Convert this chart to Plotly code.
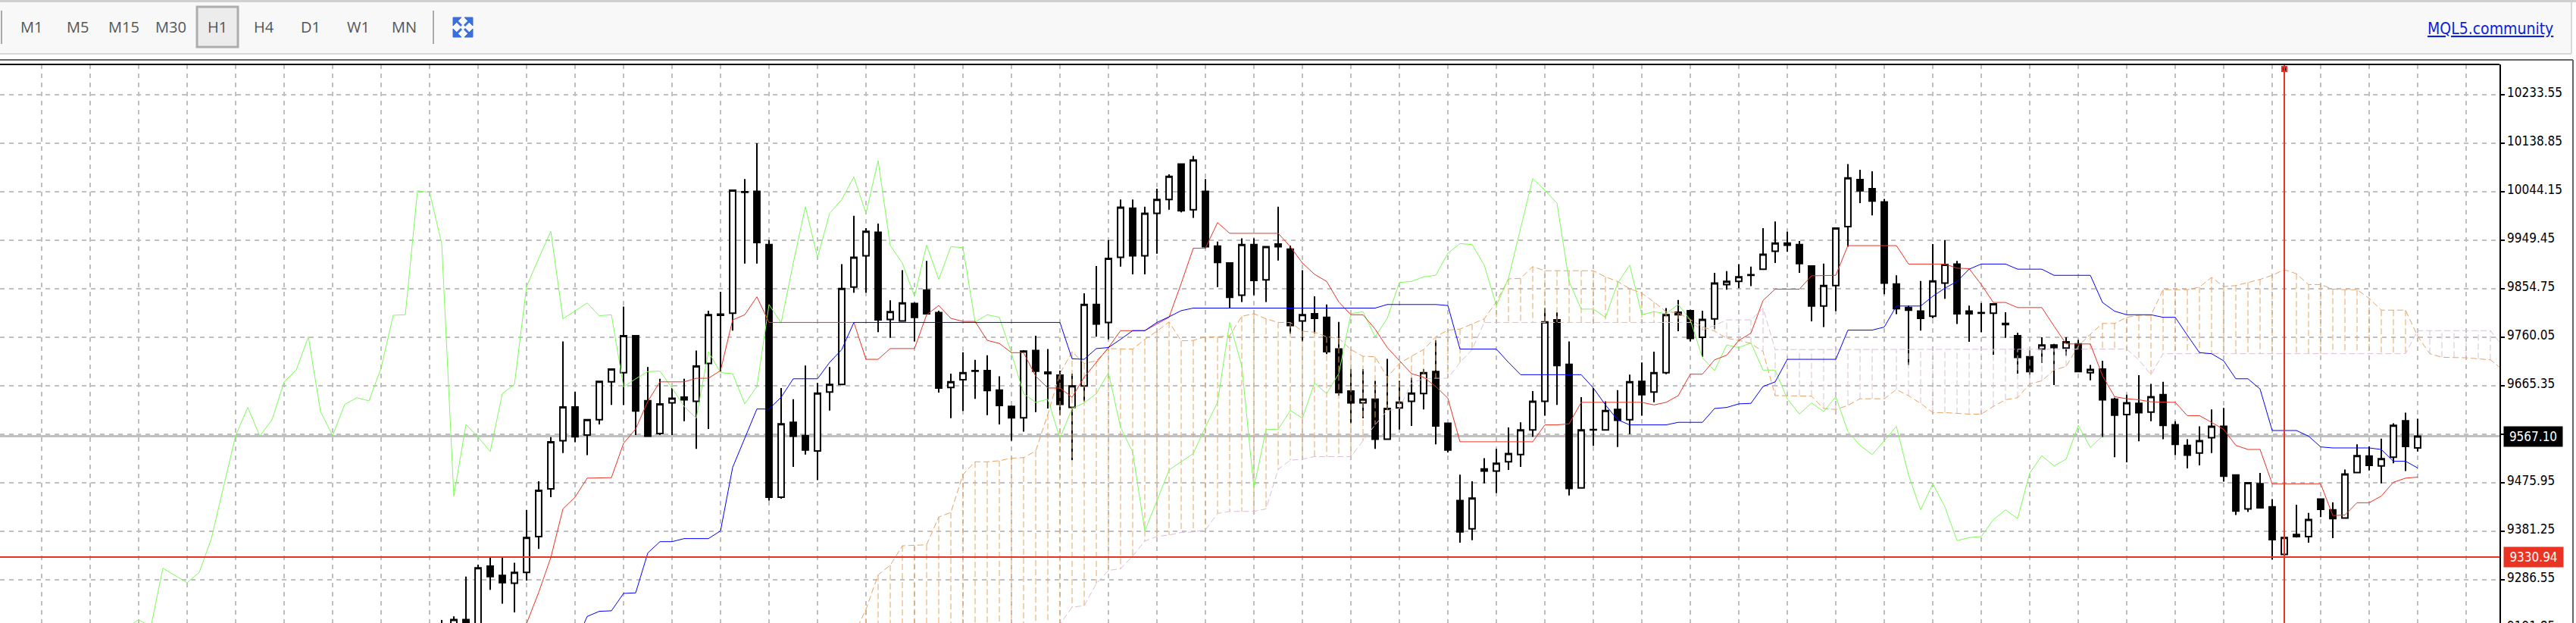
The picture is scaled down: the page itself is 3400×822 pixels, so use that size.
import plotly.graph_objs as go

W = 3400
H = 822

# IMPORT DATA (bar index 0 = first vertical grid line)
first_bar = 33
opens = [
    9184, 9177, 9209, 9180, 9313, 9295, 9280,
    9301, 9371, 9464, 9558, 9624, 9569, 9599, 9673, 9691, 9763,
    9636, 9572, 9632, 9643, 9635, 9709, 9805, 9807, 10044, 10045,
    9941, 9448, 9594, 9568, 9538, 9653, 9668, 9858, 9919, 9965,
    9795, 9792, 9826, 9852, 9808, 9662, 9677, 9695, 9695, 9657,
    9625, 9603, 9734, 9692, 9686, 9623, 9665, 9824, 9789, 9916,
    10012, 9919, 10002, 10029, 10098, 10009, 10045, 9938, 9905, 9842,
    9941, 9872, 9942, 9932, 9792, 9806, 9799, 9737, 9655, 9632,
    9639, 9561, 9622, 9635, 9650, 9693, 9592, 9441, 9386, 9503,
    9499, 9517, 9531, 9579, 9635, 9794, 9707, 9466, 9580, 9579,
    9619, 9599, 9674, 9653, 9691, 9809, 9812, 9760, 9796, 9863,
    9869, 9881, 9893, 9928, 9944, 9941, 9899, 9821, 9861, 9976,
    10068, 10050, 10024, 9864, 9818, 9811, 9801, 9866, 9903, 9811,
    9808, 9807, 9787, 9763, 9722, 9737, 9745, 9739, 9747, 9691,
    9698, 9639, 9609, 9631, 9614, 9648, 9589, 9549, 9534, 9564,
    9586, 9491, 9425, 9474, 9429, 9336, 9375, 9371, 9444, 9423,
    9407, 9496, 9528, 9509, 9526, 9597, 9544,
]
closes = [
    9177, 9209, 9177, 9310, 9293, 9281, 9301,
    9369, 9461, 9556, 9624, 9566, 9599, 9674, 9698, 9763, 9616,
    9567, 9630, 9641, 9638, 9704, 9804, 9803, 10047, 10043, 9945,
    9448, 9591, 9567, 9540, 9651, 9668, 9855, 9916, 9967, 9794,
    9810, 9827, 9799, 9806, 9661, 9673, 9691, 9694, 9656, 9627,
    9603, 9733, 9694, 9689, 9629, 9665, 9824, 9786, 9914, 10014,
    9919, 10002, 10029, 10074, 10007, 10106, 9937, 9906, 9838, 9941,
    9871, 9937, 9937, 9783, 9804, 9797, 9732, 9652, 9632, 9639,
    9561, 9621, 9633, 9651, 9691, 9587, 9540, 9380, 9446, 9499,
    9514, 9533, 9579, 9635, 9790, 9705, 9465, 9579, 9579, 9617,
    9598, 9673, 9648, 9691, 9804, 9804, 9758, 9795, 9866, 9869,
    9878, 9882, 9922, 9944, 9940, 9904, 9821, 9861, 9973, 10071,
    10046, 10026, 9866, 9816, 9813, 9797, 9870, 9902, 9806, 9806,
    9807, 9825, 9785, 9721, 9693, 9745, 9740, 9751, 9693, 9697,
    9638, 9608, 9632, 9613, 9644, 9588, 9551, 9530, 9558, 9586,
    9489, 9421, 9476, 9427, 9365, 9369, 9371, 9404, 9424, 9406,
    9493, 9529, 9510, 9523, 9588, 9547, 9567,
]
highs = [
    9208, 9215, 9293, 9316, 9330, 9330, 9320,
    9423, 9479, 9565, 9752, 9654, 9599, 9674, 9698, 9820, 9763,
    9702, 9679, 9661, 9679, 9734, 9812, 9849, 10047, 10069, 10139,
    9950, 9661, 9639, 9705, 9671, 9702, 9903, 9997, 9973, 9982,
    9832, 9891, 9828, 9909, 9812, 9689, 9731, 9716, 9725, 9684,
    9627, 9735, 9763, 9737, 9695, 9689, 9846, 9899, 9950, 10029,
    10029, 10015, 10050, 10078, 10098, 10114, 10069, 9947, 9905, 9953,
    9953, 9937, 10015, 9939, 9891, 9840, 9824, 9790, 9698, 9698,
    9675, 9718, 9675, 9681, 9698, 9754, 9592, 9492, 9479, 9524,
    9542, 9584, 9594, 9655, 9817, 9809, 9752, 9643, 9661, 9635,
    9657, 9687, 9711, 9732, 9817, 9833, 9814, 9812, 9886, 9889,
    9903, 9898, 9973, 9986, 9966, 9948, 9899, 9904, 9973, 10098,
    10087, 10084, 10030, 9881, 9822, 9870, 9942, 9950, 9909, 9822,
    9827, 9826, 9809, 9769, 9734, 9760, 9747, 9760, 9755, 9706,
    9714, 9642, 9648, 9686, 9669, 9673, 9596, 9561, 9586, 9619,
    9622, 9491, 9476, 9495, 9444, 9369, 9433, 9417, 9444, 9438,
    9502, 9551, 9547, 9562, 9592, 9613, 9601,
]
lows = [
    9170, 9170, 9170, 9175, 9267, 9240, 9223,
    9285, 9347, 9448, 9534, 9555, 9530, 9590, 9628, 9628, 9569,
    9567, 9569, 9569, 9596, 9542, 9581, 9693, 9773, 9904, 9904,
    9441, 9445, 9507, 9531, 9481, 9617, 9668, 9847, 9847, 9770,
    9759, 9791, 9752, 9806, 9652, 9602, 9616, 9640, 9608, 9590,
    9558, 9576, 9614, 9621, 9608, 9520, 9635, 9761, 9756, 9898,
    9883, 9883, 9923, 10009, 10004, 9993, 9934, 9858, 9817, 9829,
    9842, 9829, 9910, 9767, 9752, 9768, 9727, 9646, 9592, 9602,
    9542, 9561, 9580, 9587, 9619, 9551, 9535, 9359, 9364, 9475,
    9456, 9501, 9507, 9566, 9607, 9628, 9451, 9466, 9548, 9579,
    9546, 9571, 9607, 9633, 9688, 9772, 9752, 9722, 9776, 9853,
    9856, 9860, 9893, 9905, 9927, 9886, 9791, 9780, 9811, 9937,
    10022, 9998, 9844, 9805, 9706, 9773, 9797, 9835, 9786, 9751,
    9770, 9726, 9759, 9689, 9687, 9710, 9667, 9724, 9693, 9676,
    9565, 9526, 9516, 9557, 9596, 9561, 9530, 9504, 9510, 9534,
    9478, 9413, 9419, 9427, 9326, 9332, 9369, 9359, 9409, 9368,
    9407, 9496, 9500, 9475, 9514, 9499, 9537,
]

chikou_start = 7
chikou = [
    9192, 9209, 9194,
    9309, 9295, 9281, 9301, 9367, 9468, 9568, 9623, 9567, 9599,
    9673, 9696, 9761, 9615, 9568, 9629, 9642, 9636, 9700, 9803,
    9804, 10046, 10043, 9943, 9450, 9590, 9565, 9537, 9650, 9668,
    9859, 9914, 9967, 9796, 9811, 9827, 9802, 9804, 9663, 9679,
    9693, 9694, 9661, 9625, 9602, 9732, 9691, 9689, 9630, 9664,
    9824, 9788, 9905, 10015, 9916, 10002, 10029, 10073, 10002, 10105,
    9939, 9905, 9840, 9940, 9873, 9937, 9935, 9790, 9804, 9799,
    9729, 9650, 9633, 9639, 9563, 9621, 9632, 9650, 9691, 9584,
    9536, 9382, 9441, 9501, 9517, 9533, 9585, 9633, 9789, 9704,
    9466, 9580, 9580, 9617, 9602, 9671, 9650, 9689, 9806, 9810,
    9761, 9797, 9867, 9869, 9878, 9881, 9924, 9943, 9941, 9901,
    9822, 9875, 9973, 10070, 10047, 10022, 9869, 9815, 9815, 9799,
    9865, 9901, 9804, 9810, 9806, 9824, 9794, 9720, 9695, 9745,
    9740, 9749, 9696, 9696, 9640, 9610, 9632, 9615, 9644, 9576,
    9549, 9531, 9558, 9586, 9491, 9423, 9474, 9429, 9363, 9369,
    9371, 9404, 9423, 9406, 9495, 9529, 9509, 9522, 9588, 9545,
    9567,
]

tenkan_start = 38
tenkan = [
    9107, 9153,
    9201, 9262, 9330, 9425, 9448, 9485, 9485, 9486, 9553, 9581,
    9635, 9673, 9673, 9673, 9680, 9680, 9695, 9794, 9804, 9839,
    9789, 9789, 9789, 9789, 9789, 9789, 9789, 9789, 9717, 9717,
    9738, 9738, 9738, 9804, 9822, 9797, 9791, 9791, 9754, 9748,
    9730, 9730, 9684, 9661, 9661, 9643, 9682, 9711, 9740, 9773,
    9773, 9773, 9786, 9799, 9865, 9934, 9934, 9984, 9963, 9963,
    9963, 9963, 9963, 9937, 9905, 9883, 9869, 9829, 9804, 9804,
    9776, 9740, 9714, 9689, 9682, 9664, 9641, 9556, 9556, 9556,
    9556, 9556, 9556, 9556, 9589, 9589, 9591, 9633, 9633, 9633,
    9633, 9633, 9633, 9628, 9633, 9646, 9688, 9688, 9716, 9725,
    9754, 9768, 9832, 9854, 9854, 9854, 9880, 9881, 9881, 9939,
    9939, 9939, 9939, 9939, 9903, 9903, 9903, 9903, 9895, 9894,
    9863, 9828, 9828, 9818, 9818, 9818, 9782, 9747, 9747, 9747,
    9685, 9644, 9640, 9638, 9634, 9634, 9633, 9607, 9607, 9594,
    9580, 9549, 9541, 9541, 9474, 9474, 9474, 9474, 9474, 9412,
    9413, 9437, 9437, 9450, 9477, 9485, 9487,
]

kijun_start = 42
kijun = [
    9060, 9099, 9161, 9215, 9225, 9226, 9260, 9261,
    9339, 9361, 9361, 9367, 9367, 9367, 9382, 9506, 9563, 9620,
    9620, 9643, 9679, 9679, 9679, 9711, 9736, 9789, 9789, 9789,
    9789, 9789, 9789, 9789, 9789, 9789, 9789, 9789, 9789, 9789,
    9789, 9789, 9789, 9789, 9789, 9718, 9717, 9738, 9740, 9756,
    9773, 9773, 9789, 9800, 9812, 9817, 9817, 9817, 9817, 9817,
    9817, 9817, 9817, 9817, 9817, 9817, 9817, 9817, 9817, 9817,
    9817, 9824, 9824, 9824, 9824, 9824, 9822, 9737, 9737, 9737,
    9737, 9711, 9687, 9687, 9687, 9687, 9687, 9687, 9661, 9628,
    9599, 9589, 9589, 9589, 9589, 9594, 9594, 9594, 9621, 9623,
    9630, 9631, 9664, 9673, 9717, 9717, 9717, 9717, 9717, 9774,
    9774, 9774, 9780, 9821, 9821, 9821, 9840, 9856, 9869, 9893,
    9903, 9903, 9903, 9893, 9893, 9893, 9881, 9881, 9881, 9881,
    9828, 9811, 9804, 9804, 9804, 9799, 9799, 9764, 9730, 9728,
    9714, 9679, 9679, 9659, 9578, 9578, 9578, 9567, 9546, 9544,
    9544, 9544, 9544, 9541, 9518, 9518, 9505,
]

span_start = 67
span_a = [
    9179, 9229, 9296,
    9315, 9353, 9354, 9355, 9409, 9418, 9492, 9517, 9517, 9519,
    9524, 9525, 9538, 9610, 9689, 9732, 9709, 9714, 9738, 9737,
    9737, 9756, 9772, 9790, 9753, 9754, 9761, 9761, 9763, 9801,
    9806, 9796, 9789, 9789, 9772, 9770, 9761, 9758, 9736, 9723,
    9722, 9682, 9709, 9723, 9736, 9761, 9774, 9776, 9786, 9796,
    9829, 9874, 9875, 9898, 9890, 9890, 9890, 9890, 9890, 9878,
    9869, 9855, 9846, 9829, 9810, 9808, 9794, 9781, 9772, 9758,
    9754, 9748, 9732, 9646, 9646, 9646, 9645, 9621, 9619, 9627,
    9640, 9640, 9640, 9658, 9646, 9631, 9613, 9613, 9611, 9610,
    9610, 9625, 9638, 9642, 9669, 9675, 9696, 9703, 9743, 9766,
    9787, 9787, 9799, 9803, 9803, 9853, 9853, 9853, 9858, 9877,
    9859, 9861, 9867, 9873, 9881, 9892, 9884, 9863, 9863, 9854,
    9853, 9853, 9836, 9813, 9813, 9813, 9762, 9728, 9721, 9721,
    9720, 9718, 9716, 9697,
]
span_b = [
    9150, 9150, 9150,
    9150, 9150, 9150, 9150, 9150, 9150, 9150, 9170, 9170, 9170,
    9170, 9180, 9185, 9190, 9200, 9233, 9236, 9279, 9305, 9308,
    9333, 9362, 9371, 9374, 9379, 9380, 9384, 9416, 9420, 9420,
    9420, 9425, 9502, 9520, 9522, 9527, 9527, 9527, 9527, 9558,
    9589, 9617, 9621, 9671, 9679, 9680, 9680, 9711, 9736, 9789,
    9789, 9789, 9789, 9789, 9789, 9789, 9789, 9789, 9789, 9789,
    9789, 9789, 9789, 9789, 9789, 9789, 9789, 9774, 9783, 9794,
    9794, 9794, 9817, 9736, 9736, 9736, 9736, 9737, 9737, 9737,
    9737, 9737, 9737, 9737, 9737, 9737, 9737, 9737, 9737, 9737,
    9737, 9737, 9737, 9737, 9737, 9737, 9737, 9737, 9737, 9737,
    9737, 9737, 9737, 9716, 9687, 9728, 9728, 9728, 9728, 9728,
    9728, 9728, 9728, 9728, 9728, 9728, 9728, 9728, 9728, 9728,
    9728, 9728, 9728, 9728, 9728, 9728, 9773, 9773, 9773, 9773,
    9773, 9773, 9773, 9743,
]

price_ticks = [10233.55, 10138.85, 10044.15, 9949.45, 9854.75, 9760.05, 9665.35, 9475.95, 9381.25, 9286.55]
tick_labels = ['10233.55', '10138.85', '10044.15', '9949.45', '9854.75', '9760.05', '9665.35', '9475.95', '9381.25', '9286.55']
all_grid_prices = price_ticks + [9570.65]
cut_tick_label = '9191.85'
last_price = 9567.10
level_price = 9330.94
cursor_bar = 185
cursor_mark_price = 10284
grid_bars = list(range(0, 204, 4))
periods = ['M1', 'M5', 'M15', 'M30', 'H1', 'H4', 'D1', 'W1', 'MN']
period_x = [41, 102.5, 163, 225.5, 287, 348, 410, 473, 533]

# colours
GRID = '#c0c0c0'
RED = '#ea3323'
ORANGE = '#e9a263'
THISTLE = '#d8bfd8'
GREEN = '#7dfb5a'
LABEL_FONT = 'DejaVu Sans Condensed, DejaVu Sans'


def px(x):
    return x / W


def py(y):
    return 1 - y / H


def rect(x0, y0, x1, y1, fill, line=None, width=0):
    return dict(type='rect', xref='paper', yref='paper', x0=px(x0), x1=px(x1), y0=py(y0), y1=py(y1),
                fillcolor=fill, line=dict(color=line or fill, width=width), layer='above')


def seg(x0, y0, x1, y1, color, width):
    return dict(type='line', xref='paper', yref='paper', x0=px(x0), x1=px(x1), y0=py(y0), y1=py(y1),
                line=dict(color=color, width=width), layer='above')


def poly(points, color):
    d = 'M' + ' L'.join('%f,%f' % (px(a), py(b)) for a, b in points) + ' Z'
    return dict(type='path', xref='paper', yref='paper', path=d, fillcolor=color, line=dict(color=color, width=1), layer='above')


# --- cloud hatch: one dashed stroke per bar between the two spans --- #
span_x = list(range(span_start, span_start + len(span_a)))
up_x, up_y, dn_x, dn_y = [], [], [], []
for k, a, b in zip(span_x, span_a, span_b):
    if a >= b:
        up_x += [k, k, None]
        up_y += [a, b, None]
    else:
        dn_x += [k, k, None]
        dn_y += [a, b, None]

# declare figure
fig = go.Figure()

fig.add_trace(go.Scatter(x=up_x, y=up_y, mode='lines', line=dict(color=ORANGE, width=1, dash='8px,4px'), connectgaps=False))
fig.add_trace(go.Scatter(x=dn_x, y=dn_y, mode='lines', line=dict(color=THISTLE, width=1, dash='8px,4px'), connectgaps=False))

# set up traces
bars = list(range(first_bar, first_bar + len(opens)))
fig.add_trace(go.Candlestick(x=bars, open=opens, high=highs, low=lows, close=closes,
                             increasing=dict(fillcolor='white', line=dict(color='black', width=2)),
                             decreasing=dict(fillcolor='black', line=dict(color='black', width=2)),
                             whiskerwidth=0))

fig.add_trace(go.Scatter(x=span_x, y=span_a, mode='lines', line=dict(color=ORANGE, width=1, dash='8px,4px')))
fig.add_trace(go.Scatter(x=span_x, y=span_b, mode='lines', line=dict(color=THISTLE, width=1, dash='8px,4px')))
fig.add_trace(go.Scatter(x=list(range(chikou_start, chikou_start + len(chikou))), y=chikou, mode='lines', line=dict(color=GREEN, width=1)))
fig.add_trace(go.Scatter(x=list(range(tenkan_start, tenkan_start + len(tenkan))), y=tenkan, mode='lines', line=dict(color=RED, width=1)))
fig.add_trace(go.Scatter(x=list(range(kijun_start, kijun_start + len(kijun))), y=kijun, mode='lines', line=dict(color='#0000ff', width=1)))
fig.add_trace(go.Scatter(x=[cursor_bar], y=[cursor_mark_price], mode='markers',
                         marker=dict(symbol='square', size=6, color='black', line=dict(color=RED, width=2))))

shapes = [
    # price lines
    dict(type='line', xref='paper', yref='y', x0=0, x1=3299 / W, y0=last_price, y1=last_price, line=dict(color=GRID, width=3), layer='below'),
    dict(type='line', xref='paper', yref='y', x0=0, x1=3299 / W, y0=level_price, y1=level_price, line=dict(color=RED, width=2), layer='above'),
    dict(type='line', xref='x', yref='paper', x0=cursor_bar, x1=cursor_bar, y0=0, y1=py(85), line=dict(color=RED, width=2), layer='above'),
    # toolbar
    rect(0, 0, 3400, 3, '#d0d0d0'),
    rect(0, 3, 3394, 70, '#f8f8f8'),
    seg(0, 71, 3394, 71, '#d8d8d8', 2),
    seg(3394, 3, 3394, 71, '#d8d8d8', 2),
    rect(260, 9, 314, 62, '#ececec', '#adadad', 3),
    seg(2, 14, 2, 58, '#aaaaaa', 2),
    seg(572, 14, 572, 58, '#aaaaaa', 2),
    # frame
    seg(0, 79, 3396, 79, '#666666', 2),
    seg(3396, 79, 3396, 822, '#666666', 2),
    seg(0, 85, 3299, 85, 'black', 2),
]

# fullscreen icon
ICON = '#3a6fdc'
shapes += [
    poly([(598, 23), (609, 23), (598, 34)], ICON),
    poly([(624, 23), (613, 23), (624, 34)], ICON),
    poly([(598, 49), (609, 49), (598, 38)], ICON),
    poly([(624, 49), (613, 49), (624, 38)], ICON),
    seg(600, 25, 609, 34, ICON, 3), seg(622, 25, 613, 34, ICON, 3),
    seg(600, 47, 609, 38, ICON, 3), seg(622, 47, 613, 38, ICON, 3),
]

annotations = []
for label, x in zip(periods, period_x):
    annotations.append(dict(text=label, xref='paper', yref='paper', x=px(x), y=py(36), showarrow=False,
                            xanchor='center', yanchor='middle', font=dict(family='Open Sans', size=20, color='#555555')))
annotations.append(dict(text='<u>MQL5.community</u>', xref='paper', yref='paper', x=px(3372), y=py(38), showarrow=False,
                        xanchor='right', yanchor='middle', font=dict(family=LABEL_FONT, size=21, color='#0a1fe0')))

for label, p in zip(tick_labels, price_ticks):
    annotations.append(dict(text=label, xref='paper', yref='y', x=px(3307), y=p, yshift=3, showarrow=False,
                            xanchor='left', yanchor='middle', font=dict(family=LABEL_FONT, size=17, color='black')))
annotations.append(dict(text=cut_tick_label, xref='paper', yref='paper', x=px(3307), y=py(826), showarrow=False,
                        xanchor='left', yanchor='middle', font=dict(family=LABEL_FONT, size=17, color='black')))
annotations.append(dict(text='%.2f' % last_price, xref='paper', yref='y', x=px(3304), y=last_price, yshift=-1, showarrow=False,
                        xanchor='left', yanchor='middle', width=75, height=24, bgcolor='black', align='center',
                        font=dict(family=LABEL_FONT, size=17, color='white')))
annotations.append(dict(text='%.2f' % level_price, xref='paper', yref='y', x=px(3304), y=level_price, showarrow=False,
                        xanchor='left', yanchor='middle', width=76, height=24, bgcolor=RED, align='center',
                        font=dict(family=LABEL_FONT, size=17, color='white')))

fig.update_layout(
    width=W, height=H, margin=dict(l=0, r=0, t=0, b=0),
    paper_bgcolor='white', plot_bgcolor='white', showlegend=False,
    boxgap=0.3, boxgroupgap=0.3,
    shapes=shapes, annotations=annotations,
    xaxis=dict(domain=[0, 3299 / W], range=[-3.4375, 202.75], rangeslider=dict(visible=False),
               tickmode='array', tickvals=grid_bars, showticklabels=False, ticks='',
               showgrid=True, gridcolor=GRID, gridwidth=2, griddash='6px,6px', zeroline=False, showline=False),
    yaxis=dict(domain=[0, py(85)], range=[9202.2, 10292.74], side='right',
               tickmode='array', tickvals=all_grid_prices, showticklabels=False, ticks='outside', ticklen=5, tickwidth=2, tickcolor='black',
               showgrid=True, gridcolor=GRID, gridwidth=2, griddash='6px,6px', zeroline=False,
               showline=True, linecolor='black', linewidth=2),
)

# fig write (page margin removed so the figure sits at the window's corner)
fig.write_html('out.html', config=dict(displayModeBar=False), post_script="document.body.style.margin='0';")
